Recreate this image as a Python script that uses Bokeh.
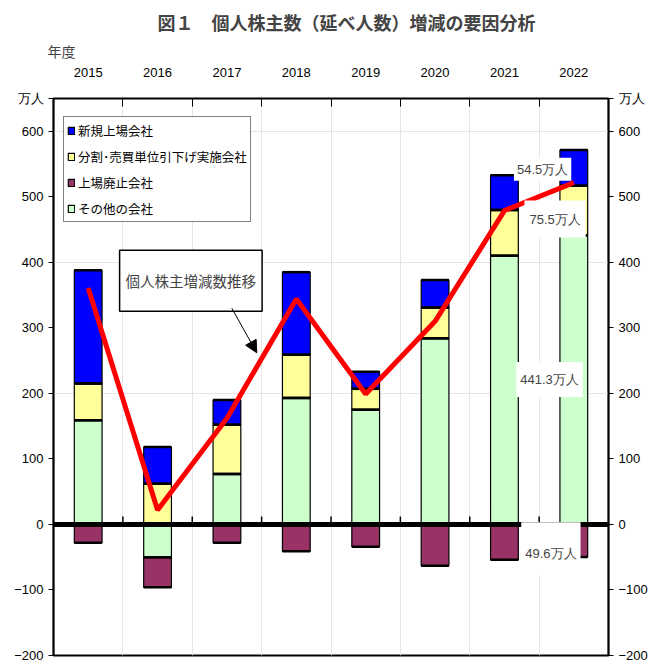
from bokeh.plotting import figure
from bokeh.models import (Range1d, LinearAxis, FixedTicker, Label, Span, Arrow,
                          NormalHead, Legend, LegendItem, Title)
from bokeh.embed import file_html
from bokeh.resources import INLINE

# ---------------- data (万人) ----------------
years = ["2015", "2016", "2017", "2018", "2019", "2020", "2021", "2022"]
new_listing = [173, 56, 38, 126, 26, 42, 53, 54.5]          # 新規上場会社
split_lot = [56, 62, 75, 66, 32, 47, 70, 75.5]              # 分割・売買単位引下げ実施会社
delisting = [-28, -46, -28, -41, -34, -63, -54, -49.6]      # 上場廃止会社
other = [159, -50, 77, 193, 175, 284, 410, 441.3]           # その他の会社
net_change = [361, 22, 162, 344, 199, 310, 479, 521.7]      # 個人株主増減数推移
y_ticks = [-200, -100, 0, 100, 200, 300, 400, 500, 600]
unit_tick = 650   # where the "万人" unit caption sits on the value axes

series = [
    ("その他の会社", other, "#CCFFCC"),
    ("分割･売買単位引下げ実施会社", split_lot, "#FFFF99"),
    ("新規上場会社", new_listing, "#0000FF"),
    ("上場廃止会社", delisting, "#993366"),
]

JP = "Noto Sans CJK JP"
NUM = "Liberation Sans"

n = len(years)
centers = [i + 0.5 for i in range(n)]
bounds = [i for i in range(1, n)]

p = figure(width=650, height=664, x_range=Range1d(0, n), y_range=Range1d(-200, 650),
           x_axis_location=None, y_axis_location=None,
           output_backend="svg", toolbar_location=None,
           min_border_left=53, min_border_right=38, min_border_top=98, min_border_bottom=9)
p.outline_line_color = "black"
p.outline_line_width = 2
p.background_fill_color = "white"
p.border_fill_color = "white"

# title
p.title.text = "図１　個人株主数（延べ人数）増減の要因分析"
p.title.text_font = JP
p.title.text_font_size = "18px"
p.title.text_font_style = "bold"
p.title.align = "left"
p.title.offset = 104
p.title.standoff = 0

# top category axis
top_ax = LinearAxis(ticker=FixedTicker(ticks=centers, minor_ticks=bounds),
                    major_label_overrides={c: y for c, y in zip(centers, years)})
top_ax.major_tick_line_color = None
top_ax.major_tick_out = 0
top_ax.major_tick_in = 0
top_ax.minor_tick_in = 8
top_ax.minor_tick_out = 0
top_ax.minor_tick_line_color = "black"
top_ax.minor_tick_line_width = 1
top_ax.axis_line_color = None
top_ax.major_label_standoff = 22
top_ax.major_label_text_font = NUM
top_ax.major_label_text_font_size = "13px"
top_ax.major_label_text_color = "black"
p.add_layout(top_ax, "above")

# "年度" caption
p.add_layout(Title(text="年度", align="left", offset=-6, text_font=JP,
                   text_font_size="14px", text_font_style="normal", standoff=8), "above")

# y axes (unit caption "万人" placed as a label at the top of each value axis)
for side in ("left", "right"):
    ax = LinearAxis(ticker=FixedTicker(ticks=y_ticks + [unit_tick], minor_ticks=[]),
                    major_label_overrides={unit_tick: "万人"})
    ax.major_tick_out = 5
    ax.major_tick_in = 0
    ax.major_tick_line_color = "black"
    ax.axis_line_color = "black"
    ax.axis_line_width = 1.5
    ax.major_label_standoff = 5
    ax.major_label_text_font = NUM
    ax.major_label_text_font_size = "13px"
    ax.major_label_text_color = "black"
    p.add_layout(ax, side)

# stacked bars
pos = [0.0] * n
neg = [0.0] * n
renderers = {}
edges_x0, edges_x1, edges_y = [], [], []
bw = 0.4
for name, vals, color in series:
    bottoms, tops = [], []
    for i, v in enumerate(vals):
        if v >= 0:
            b, t = pos[i], pos[i] + v
            pos[i] = t
        else:
            b, t = neg[i] + v, neg[i]
            neg[i] = b
        bottoms.append(b)
        tops.append(t)
        for yy in (b, t):
            edges_x0.append(centers[i] - bw / 2)
            edges_x1.append(centers[i] + bw / 2)
            edges_y.append(yy)
    r = p.vbar(x=centers, width=bw, bottom=bottoms, top=tops,
               fill_color=color, line_color="black", line_width=1.2)
    renderers[name] = r

p.segment(x0=edges_x0, y0=edges_y, x1=edges_x1, y1=edges_y,
          line_color="black", line_width=2.5)

# zero line with category ticks
p.add_layout(Span(location=0, dimension="width", line_color="black", line_width=5))
p.segment(x0=bounds, y0=[0] * len(bounds), x1=bounds, y1=[12] * len(bounds),
          line_color="black", line_width=1.5)

# net change line
p.line(x=centers, y=net_change, line_color="#FF0000", line_width=5)

# legend
legend_order = ["新規上場会社", "分割･売買単位引下げ実施会社", "上場廃止会社", "その他の会社"]
legend = Legend(items=[LegendItem(label=k, renderers=[renderers[k]]) for k in legend_order],
                location=(10, 433))
legend.label_text_font = JP
legend.label_text_font_size = "12.5px"
legend.label_text_color = "black"
legend.glyph_width = 8
legend.glyph_height = 9
legend.label_standoff = 3
legend.label_height = 20
legend.spacing = 6
legend.padding = 3
legend.margin = 0
legend.border_line_color = "black"
legend.border_line_width = 1
legend.background_fill_color = "white"
legend.background_fill_alpha = 1
p.add_layout(legend)

# callout box and arrow
p.add_layout(Label(x=1.98, y=372, text="個人株主増減数推移", text_font=JP,
                   text_font_size="14.5px", text_align="center", text_baseline="middle",
                   background_fill_color="white", border_line_color="black",
                   border_line_width=1.5,
                   padding=dict(left=6, right=6, top=20, bottom=20)))
p.add_layout(Arrow(end=NormalHead(size=12, fill_color="black", line_color="black"),
                   x_start=2.57, y_start=330, x_end=2.93, y_end=262,
                   line_color="black", line_width=1))

# value labels for 2022
for txt, x, y, ph, pt, pb in [("54.5万人", 7.05, 542, 3, 4, 4),
                              ("75.5万人", 7.23, 466, 5, 11, 11),
                              ("441.3万人", 7.15, 221, 4, 10, 10),
                              ("49.6万人", 7.17, -37, 4, 24, 14)]:
    p.add_layout(Label(x=x, y=y, text=txt, text_font=NUM, text_font_size="13px",
                       text_align="center", text_baseline="middle",
                       background_fill_color="white",
                       padding=dict(left=ph, right=ph, top=pt, bottom=pb)))

open("out.html", "w").write(file_html(p, INLINE))
